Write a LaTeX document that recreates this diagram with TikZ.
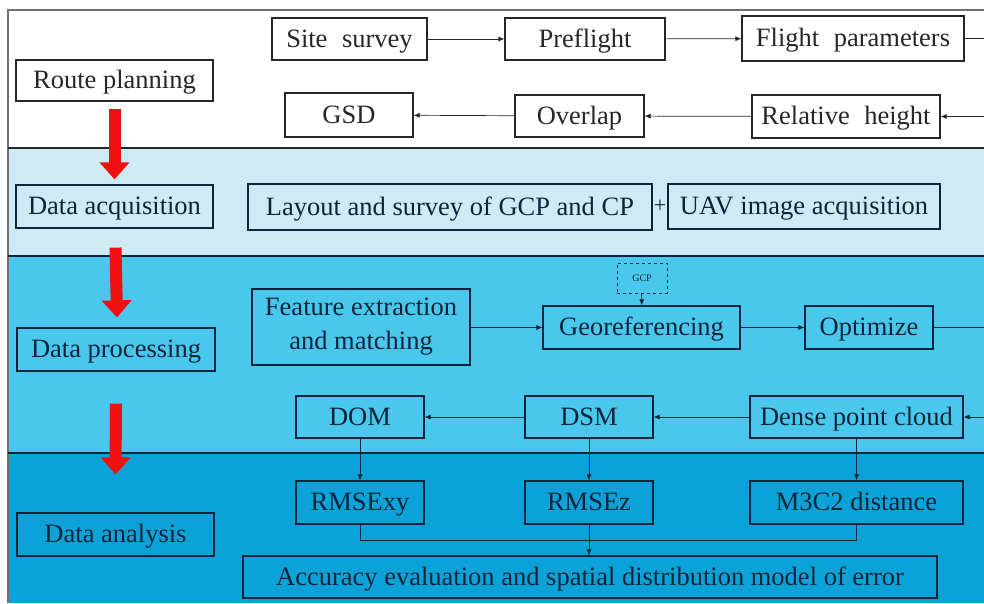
\documentclass[tikz,border=0pt]{standalone}
\usepackage{fontspec}
\setmainfont{Liberation Serif}
\usetikzlibrary{arrows.meta}

\definecolor{bandlight}{HTML}{CDEAF5}
\definecolor{bandmid}{HTML}{4AC7EC}
\definecolor{banddark}{HTML}{0BA2D7}
\definecolor{framegray}{HTML}{707070}
\definecolor{inkgray}{HTML}{262626}
\definecolor{inknavy}{HTML}{0C243A}
\definecolor{flowred}{HTML}{F01010}

\tikzset{
  boxbase/.style={draw=#1, text=#1, line width=1.2pt, inner sep=0pt, align=center,
    font=\fontsize{26.5}{34}\selectfont},
  boxbase/.default=inknavy,
  box/.style={boxbase=#1, text height=20pt, text depth=4pt},
  box/.default=inknavy,
  topbox/.style={box=inkgray},
  link/.style={draw=#1, line width=0.7pt, -{Latex[length=6pt,width=5pt]}},
  link/.default=inknavy,
  plainlink/.style={draw=inknavy, line width=0.7pt},
  stage/.style={draw=flowred, line width=12pt,
    -{Triangle[length=17pt,width=29pt]}},
}

\begin{document}
\begin{tikzpicture}[x=1pt,y=-1pt]
\useasboundingbox (0,0) rectangle (984,603);

% background bands for the four stages
\fill[white] (0,0) rectangle (984,603);
\fill[white]     (8,10)  rectangle (984,148);
\fill[bandlight] (8,148) rectangle (984,256);
\fill[bandmid]   (8,256) rectangle (984,453);
\fill[banddark]  (8,453) rectangle (984,603);
\draw[framegray, line width=2pt] (984,10) -- (8,10) -- (8,603);
\draw[inkgray, line width=1.6pt] (8,148) -- (984,148);
\draw[inknavy, line width=2pt] (8,256) -- (984,256);
\draw[inknavy, line width=2.4pt] (8,453) -- (984,453);

% stage labels
\node[topbox, minimum width=197pt, minimum height=41pt] (rp) at (114.5,80.5) {Route planning};
\node[box, minimum width=197pt, minimum height=43pt] (da) at (114.5,206.5) {Data acquisition};
\node[box, minimum width=198pt, minimum height=43pt] (dp) at (116,349.5) {Data processing};
\node[box, minimum width=197pt, minimum height=43pt] (dan) at (115.5,534.5) {Data analysis};

% route planning
\node[topbox, minimum width=155pt, minimum height=42pt] (ss) at (349.5,39) {Site\hspace{0.3em} survey};
\node[topbox, minimum width=160pt, minimum height=42pt] (pf) at (585,39) {Preflight};
\node[topbox, minimum width=222pt, minimum height=45pt] (fp) at (853,38.5) {Flight\hspace{0.3em} parameters};
\node[topbox, minimum width=188pt, minimum height=43pt] (rh) at (846,116.5) {Relative\hspace{0.3em} height};
\node[topbox, minimum width=129pt, minimum height=42pt] (ov) at (579.5,116) {Overlap};
\node[topbox, minimum width=128pt, minimum height=44pt] (gsd) at (349,115) {GSD};
\coordinate (outA) at (984,38.5);
\coordinate (inA) at (984,116.5);

\draw[link=inkgray] (ss) -- (pf);
\draw[link=inkgray] (pf) -- (fp);
\draw[draw=inkgray, line width=0.7pt] (fp) -- (outA);
\draw[link=inkgray] (inA) -- (rh);
\draw[link=inkgray] (rh) -- (ov);
\draw[link=inkgray] (ov) -- (gsd);

% data acquisition
\node[box, minimum width=404pt, minimum height=46pt] (lay) at (450,207) {Layout and survey of GCP and CP};
\node[box, minimum width=272pt, minimum height=45pt] (uav) at (804,206.5) {UAV image acquisition};
\node[text=inknavy, font=\fontsize{22}{24}\selectfont, inner sep=0pt] (plus) at (660,206) {+};

% data processing
\node[boxbase, minimum width=218pt, minimum height=76pt] (fe) at (361,327) {Feature extraction\\and matching};
\node[boxbase, dashed, line width=1pt, minimum width=50pt, minimum height=30pt,
  font=\fontsize{10}{12}\selectfont] (gcp) at (642,278) {GCP};
\node[box, minimum width=197pt, minimum height=43pt] (geo) at (641.5,327.5) {Georeferencing};
\node[box, minimum width=128pt, minimum height=43pt] (opt) at (869,327.5) {Optimize};
\node[box, minimum width=213pt, minimum height=42pt] (dpc) at (856.5,417) {Dense point cloud};
\node[box, minimum width=128pt, minimum height=42pt] (dsm) at (589,417) {DSM};
\node[box, minimum width=128pt, minimum height=42pt] (dom) at (360,417) {DOM};
\coordinate (outB) at (984,327.5);
\coordinate (inB) at (984,417);

\draw[link] (fe.east |- geo) -- (geo);
\draw[link] (gcp) -- (geo);
\draw[link] (geo) -- (opt);
\draw[plainlink] (opt) -- (outB);
\draw[link] (inB) -- (dpc);
\draw[link] (dpc) -- (dsm);
\draw[link] (dsm) -- (dom);

% data analysis
\node[box, minimum width=128pt, minimum height=43pt] (rx) at (360,502.5) {RMSExy};
\node[box, minimum width=128pt, minimum height=43pt] (rz) at (589,502.5) {RMSEz};
\node[box, minimum width=213pt, minimum height=43pt] (m3) at (856.5,502.5) {M3C2 distance};
\node[box, minimum width=694pt, minimum height=42pt] (acc) at (590,577) {Accuracy evaluation and spatial distribution model of error};

\draw[link] (dom) -- (rx);
\draw[link] (dsm) -- (rz);
\draw[link] (dpc) -- (m3);
\draw[plainlink] (rx.south) -- ++(0,16) -| (m3.south);
\draw[link] (rz) -- (rz |- acc.north);

% stage flow
\draw[stage] ([yshift=-7pt]rp.south) -- ([yshift=5pt]da.north);
\draw[stage] ([xshift=1pt,yshift=-19pt]da.south) -- ([xshift=1pt,yshift=10pt]dp.north);
\draw[stage] ([yshift=-32pt]dp.south) -- ([yshift=38pt]dan.north);
\end{tikzpicture}
\end{document}
